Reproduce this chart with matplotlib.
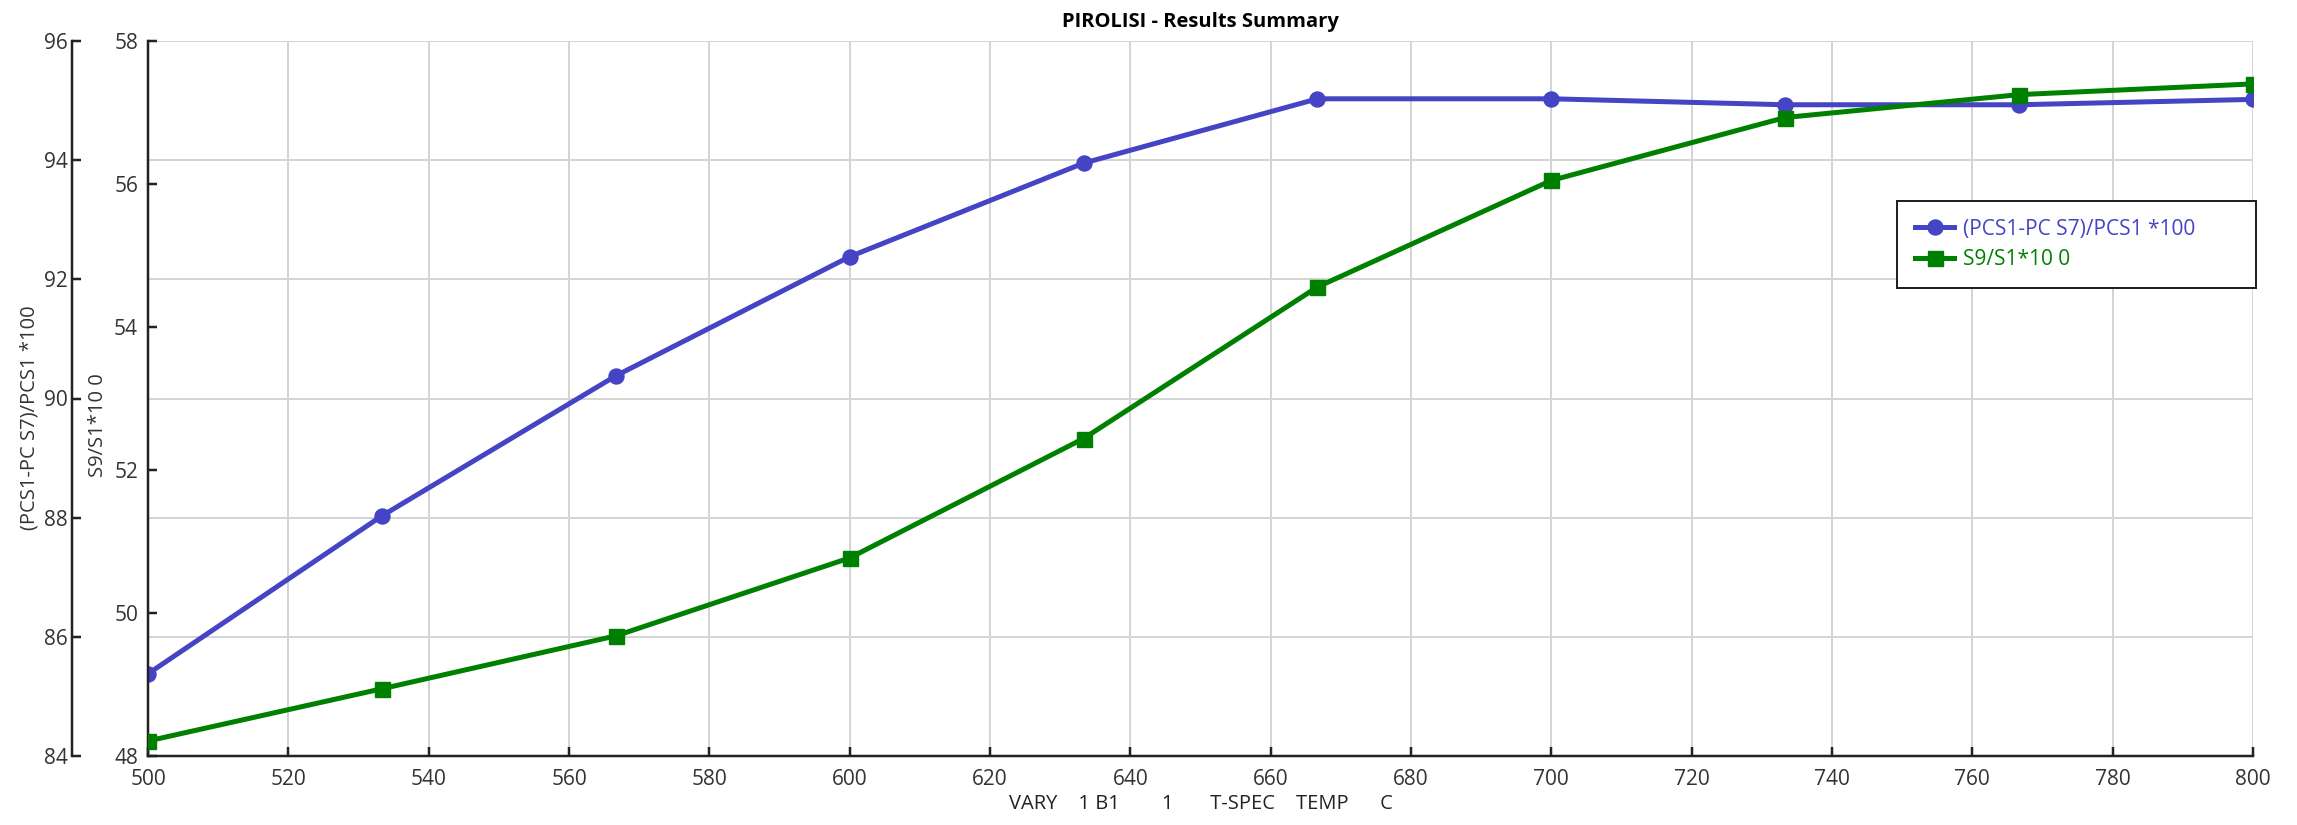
import matplotlib.pyplot as plt

# data
temp_c = [500, 533.33, 566.67, 600, 633.33, 666.67, 700, 733.33, 766.67, 800]
pcs_ratio = [85.38, 88.03, 90.38, 92.38, 93.95, 95.03, 95.03, 94.93, 94.93, 95.02]
s9_ratio = [48.21, 48.94, 49.68, 50.77, 52.44, 54.56, 56.05, 56.93, 57.25, 57.40]

label_pcs = "(PCS1-PC S7)/PCS1 *100"
label_s9 = "S9/S1*10 0"
blue = "#4444c4"
green = "#008000"

plt.rcParams["font.family"] = ["Open Sans", "DejaVu Sans"]

W, H, DPI = 2297, 825, 100
fig = plt.figure(figsize=(W / DPI, H / DPI), dpi=DPI)
fig.subplots_adjust(left=148 / W, right=2253 / W, top=1 - 41 / H, bottom=1 - 756 / H)
ax = fig.add_subplot(111)
ax2 = ax.twinx()

px = 72 / DPI  # points per pixel

ax.plot(temp_c, pcs_ratio, color=blue, lw=5 * px, marker="o", ms=15 * px,
        label=label_pcs, zorder=3)
ax2.plot(temp_c, s9_ratio, color=green, lw=5 * px, marker="s", ms=15 * px,
         label=label_s9, zorder=3)

ax.set_xlim(500, 800)
ax.set_ylim(84, 96)
ax2.set_ylim(48, 58)
ax.set_xticks(range(500, 801, 20))
ax.set_yticks(range(84, 97, 2))
ax2.set_yticks(range(48, 59, 2))

ax.grid(True, color="#d4d4d4", lw=2 * px)
ax.set_axisbelow(True)

for s in ["top", "right"]:
    ax.spines[s].set_visible(False)
ax.spines["left"].set_position(("outward", 76 * px))
for s in ["top", "right", "bottom"]:
    ax2.spines[s].set_visible(False)
ax2.spines["left"].set_visible(True)
ax2.spines["left"].set_position(("axes", 0))
for a in (ax, ax2):
    for s in a.spines.values():
        s.set_color("#222222")
        s.set_linewidth(2.5 * px)

ax2.yaxis.set_ticks_position("left")
ax2.yaxis.set_label_position("left")

tick_kw = dict(direction="in", length=9 * px, width=2.5 * px, color="#222222",
               labelsize=15, labelcolor="#333333")
ax.tick_params(axis="y", pad=4 * px, **tick_kw)
ax2.tick_params(axis="y", pad=10 * px, **tick_kw)
ax.tick_params(axis="x", pad=13 * px, **tick_kw)

ax.set_ylabel(label_pcs, fontsize=14.5, color="#333333")
ax2.set_ylabel(label_s9, fontsize=14.5, color="#333333")
ax.yaxis.set_label_coords((40 - 148) / 2105, (756 - 418) / 715)
ax2.yaxis.set_label_coords((108 - 148) / 2105, (756 - 425) / 715)

ax.set_xlabel("VARY    1 B1        1       T-SPEC    TEMP      C", fontsize=14.5,
              color="#222222", labelpad=3)
ax.set_title("PIROLISI - Results Summary", fontsize=14.5, fontweight="bold",
             pad=10)

# legend box spans x 1897..2256 px, y 201..283 px in the figure
h1, l1 = ax.get_legend_handles_labels()
h2, l2 = ax2.get_legend_handles_labels()
leg = ax2.legend(h1 + h2, l1 + l2, loc="upper left", mode="expand",
                 bbox_to_anchor=((1897 - 148) / 2105, (756 - 283) / 715,
                                 359 / 2105, 82 / 715),
                 borderaxespad=0, fontsize=15, frameon=True, fancybox=False,
                 framealpha=1, edgecolor="#222222", handlelength=1.9,
                 handletextpad=0.4, borderpad=0.85, labelspacing=0.45)
leg.get_frame().set_linewidth(2 * px)
for txt, c in zip(leg.get_texts(), [blue, green]):
    txt.set_color(c)

fig.savefig("out.png", dpi=DPI)
plt.close(fig)
